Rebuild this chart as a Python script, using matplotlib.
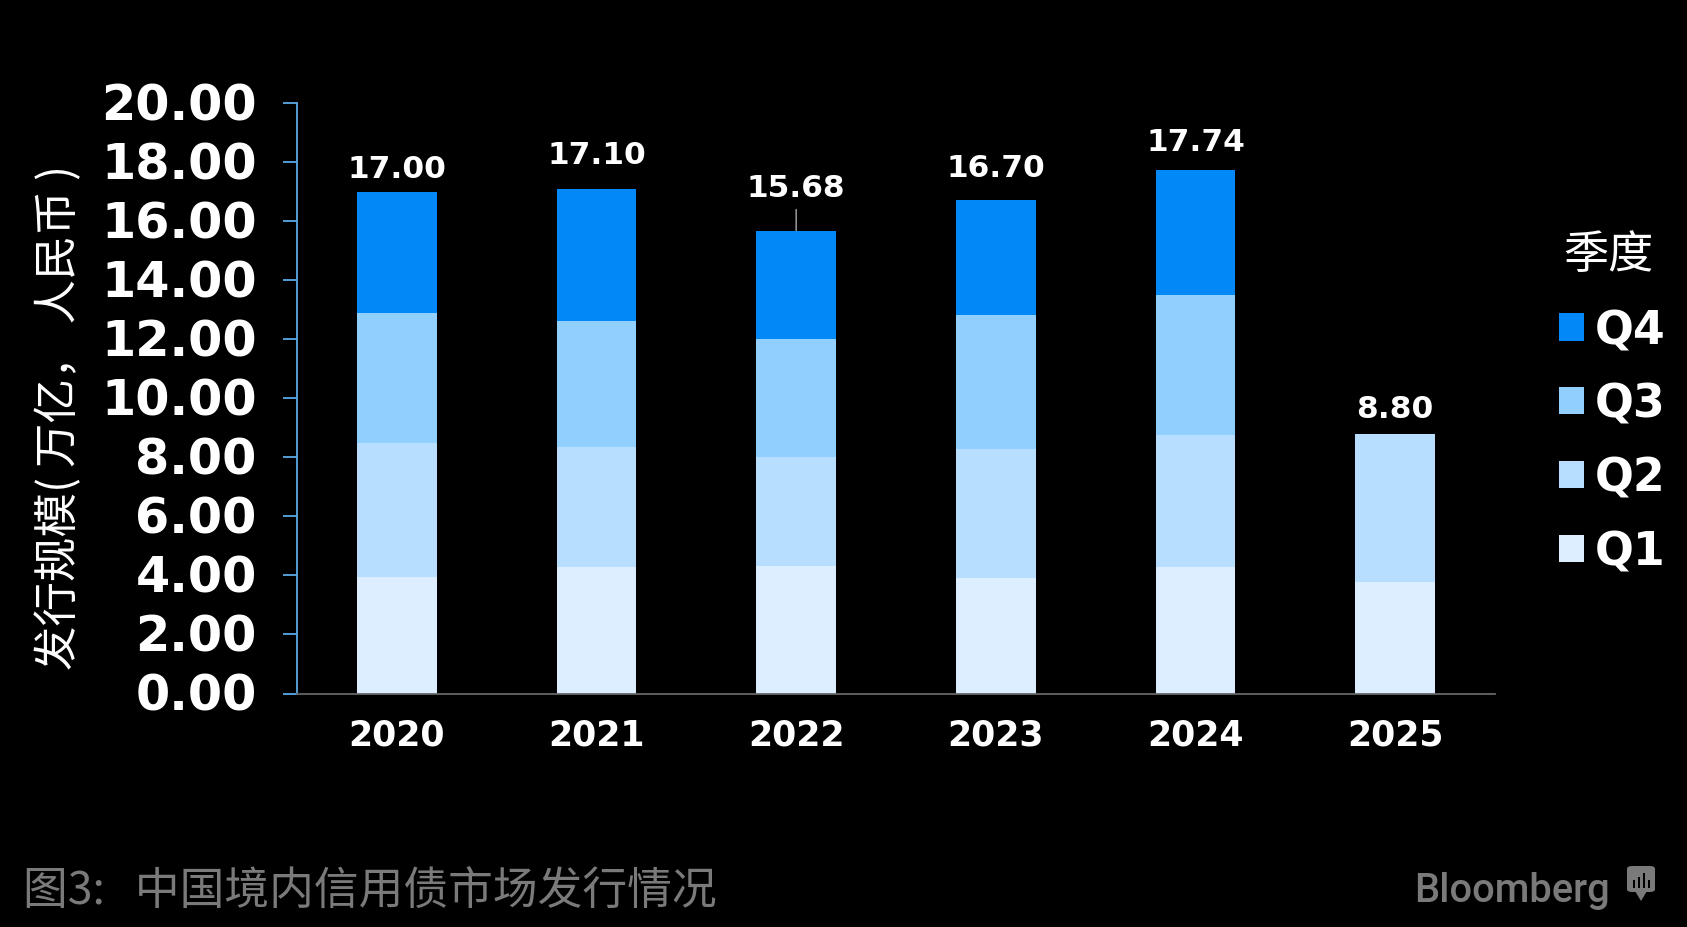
import matplotlib
matplotlib.use("Agg")
import matplotlib.pyplot as plt
from matplotlib.patches import FancyBboxPatch, Polygon, Rectangle
from matplotlib.transforms import ScaledTranslation

W, H = 1687, 928
CJK = ["Noto Sans CJK SC", "DejaVu Sans"]

years = ["2020", "2021", "2022", "2023", "2024", "2025"]
q1 = [3.94, 4.27, 4.31, 3.90, 4.27, 3.76]
q2 = [4.54, 4.09, 3.69, 4.38, 4.49, 5.04]
q3 = [4.40, 4.27, 4.00, 4.53, 4.74, 0]
q4 = [4.12, 4.47, 3.68, 3.89, 4.24, 0]
totals = [17.00, 17.10, 15.68, 16.70, 17.74, 8.80]
yticks = [0, 2, 4, 6, 8, 10, 12, 14, 16, 18, 20]

series_names = ["Q1", "Q2", "Q3", "Q4"]
colors = ["#DCEEFF", "#B8DEFF", "#91CFFF", "#0288F7"]

# gap between bar top and centre of its label, in pixels
label_gaps = [23, 34, 43, 33, 28, 25]

plt.rcParams["font.family"] = ["DejaVu Sans"]
fig = plt.figure(figsize=(W / 100, H / 100), dpi=100, facecolor="black")
ax = fig.add_axes([297 / W, 1 - 694.5 / H, 1198 / W, 590.5 / H], facecolor="black")

bottom = [0] * len(years)
for name, vals, c in zip(series_names, [q1, q2, q3, q4], colors):
    ax.bar(years, vals, width=0.4, bottom=bottom, color=c, label=name)
    bottom = [b + v for b, v in zip(bottom, vals)]

ax.set_xlim(-0.5, 5.5)
ax.set_ylim(0, 20)
ax.set_yticks(yticks)
ax.set_yticklabels([f"{v:.2f}" for v in yticks], fontsize=35.5, fontweight="bold", color="white")
ax.tick_params(axis="y", length=10, width=1.3, color="#5AA9E6", pad=19)
ax.tick_params(axis="x", length=0, pad=17, labelsize=25, labelcolor="white")
for t in ax.get_xticklabels():
    t.set_fontweight("bold")
# tick labels sit a little above their ticks
nudge = ScaledTranslation(0, 2.5 / 100, fig.dpi_scale_trans)
for t in ax.get_yticklabels():
    t.set_transform(t.get_transform() + nudge)

for s in ["top", "right"]:
    ax.spines[s].set_visible(False)
ax.spines["left"].set_color("#5AA9E6")
ax.spines["left"].set_linewidth(1.3)
ax.spines["bottom"].set_color("#666666")
ax.spines["bottom"].set_linewidth(1.3)

ax.set_ylabel("发行规模( 万亿， 人民币 )", fontsize=32, color="white", family=CJK)
ax.yaxis.set_label_coords((82 - 297) / 1198, 0.469)

for i, (total, gap) in enumerate(zip(totals, label_gaps)):
    ax.annotate(f"{total:.2f}", (i, total), xytext=(0, gap * 0.72), textcoords="offset points",
                ha="center", va="center", fontsize=22.5, fontweight="bold", color="white")
# leader line on the 2022 label
ax.annotate("", (2, totals[2]), xytext=(0, 21 * 0.72), textcoords="offset points",
            arrowprops=dict(arrowstyle="-", color="#AAAAAA", lw=1, shrinkA=0, shrinkB=0))

handles, labels = ax.get_legend_handles_labels()
leg = ax.legend(handles[::-1], labels[::-1], title="季度", frameon=False,
                loc="center left", bbox_to_anchor=(1559 / W, 1 - 405 / H),
                bbox_transform=fig.transFigure, borderpad=0, borderaxespad=0,
                prop=dict(size=33, weight="bold"), labelcolor="white",
                title_fontproperties=dict(size=32.5, family=CJK),
                handlelength=0.54, handleheight=0.54, handletextpad=0.25, labelspacing=0.63)
leg.get_title().set_color("white")
leg.get_title().set_position((-4, 2))

fig.text(23 / W, 1 - 892 / H, "图3:   中国境内信用债市场发行情况", fontsize=32.2, color="#7A7A7A",
         family=CJK, ha="left", va="center")
fig.text(1414 / W, 1 - 891 / H, "Bloomberg", fontsize=28.7, color="#7A7A7A", family="Roboto",
         fontweight="medium", ha="left", va="center")

# small Bloomberg speech-bubble mark, built in figure pixels
def px(x, y):
    return x / W, 1 - y / H

logo = fig.transFigure
x0, y0 = px(1627, 893)
fig.add_artist(FancyBboxPatch((x0, y0), 28 / W, 26 / H, boxstyle="round,pad=0,rounding_size=0.003",
                              transform=logo, fc="#7A7A7A", ec="none"))
fig.add_artist(Polygon([px(1635, 892), px(1647, 892), px(1641, 902)], transform=logo, fc="#7A7A7A", ec="none"))
for bx, bh in zip([1633, 1638, 1643, 1648], [8, 11, 15, 8]):
    fig.add_artist(Rectangle(px(bx, 889), 2 / W, bh / H, transform=logo, fc="black", ec="none"))

fig.savefig("out.png", dpi=100, facecolor=fig.get_facecolor())
